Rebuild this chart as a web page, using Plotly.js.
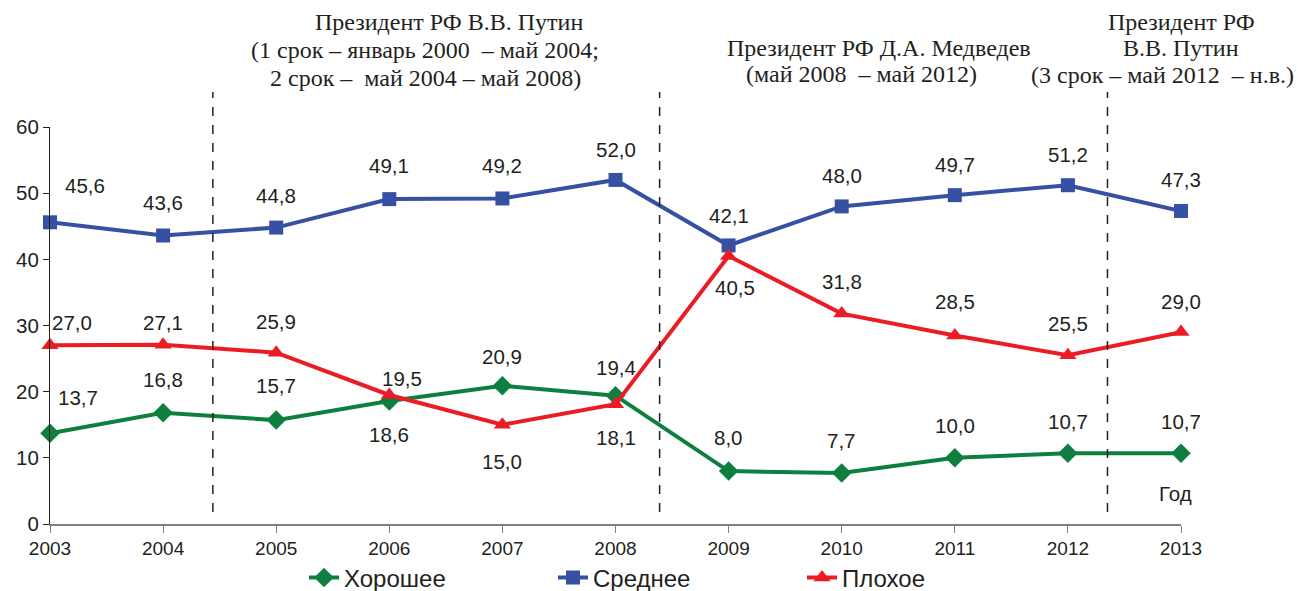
<!DOCTYPE html>
<html><head><meta charset="utf-8">
<script src="https://cdn.plot.ly/plotly-3.0.1.min.js"></script>
<style>html,body{margin:0;padding:0;background:#fff}#c{width:1298px;height:591px}</style>
</head><body><div id="c"></div>
<script>
const years = [2003,2004,2005,2006,2007,2008,2009,2010,2011,2012,2013];
const good = [13.7,16.8,15.7,18.6,20.9,19.4,8.0,7.7,10.0,10.7,10.7];
const average = [45.6,43.6,44.8,49.1,49.2,52.0,42.1,48.0,49.7,51.2,47.3];
const bad = [27.0,27.1,25.9,19.5,15.0,18.1,40.5,31.8,28.5,25.5,29.0];
const seriesNames = ['Хорошее','Среднее','Плохое'];
const termBreaks = [2004.44, 2008.39, 2012.35];

// label offsets in px (style only)
const goodOff = [[28,-36],[0,-33],[0,-35],[0,34],[0,-29],[0,-28],[0,-34],[0,-33],[0,-32],[0,-32],[0,-32]];
const avgOff = [[35,-37],[0,-33],[0,-32],[0,-34],[0,-33],[0,-30],[0,-30],[0,-31],[0,-31],[0,-31],[0,-32]];
const badOff = [[22,-23],[0,-22],[0,-31],[13,-16],[0,37],[0,33],[6,31],[0,-32],[0,-34],[0,-32],[0,-31]];

const colors = ['#0f7f3f','#3651a3','#ec1c24'];
const fmt = v => v.toFixed(1).replace('.', ',');

const traces = [
  {x:years,y:good,name:seriesNames[0],mode:'lines+markers',cliponaxis:false,
   line:{color:colors[0],width:4},marker:{symbol:'diamond',size:15,color:colors[0]}},
  {x:years,y:average,name:seriesNames[1],mode:'lines+markers',cliponaxis:false,
   line:{color:colors[1],width:4},marker:{symbol:'square',size:14,color:colors[1]}},
  {x:years,y:bad,name:seriesNames[2],mode:'lines+markers',cliponaxis:false,
   line:{color:colors[2],width:4},marker:{symbol:'triangle-up',size:15,color:colors[2]}}
];

const ann = [];
const lblFont = {family:'Liberation Sans, Arial, sans-serif',size:20.5,color:'#231f20'};
[[good,goodOff],[average,avgOff],[bad,badOff]].forEach(([vals,offs])=>{
  vals.forEach((v,i)=>{
    ann.push({x:years[i],y:v,xref:'x',yref:'y',text:fmt(v),showarrow:false,
      xshift:offs[i][0],yshift:-offs[i][1],font:lblFont});
  });
});
ann.push({x:2013,y:0,xref:'x',yref:'y',text:'Год',showarrow:false,xshift:-6,yshift:31,font:lblFont});

const serif = {family:'Liberation Serif, Times New Roman, serif',size:24,color:'#231f20'};
const topText = [
  ['Президент РФ В.В. Путин',449,22],
  ['(1 срок – январь 2000  – май 2004;',425,50],
  ['2 срок –  май 2004 – май 2008)',425,78],
  ['Президент РФ Д.А. Медведев',879,48],
  ['(май 2008  – май 2012)',861,74],
  ['Президент РФ',1181,22],
  ['В.В. Путин',1181,48],
  ['(3 срок – май 2012  – н.в.)',1162,75]
];
const L=50,R=1181,T=127,B=524;
topText.forEach(([t,px,py])=>{
  ann.push({xref:'paper',yref:'paper',x:(px-L)/(R-L),y:(B-py)/(B-T),text:t,showarrow:false,
    xanchor:'center',yanchor:'middle',font:serif});
});

const shapes = termBreaks.map(xb=>({type:'line',xref:'x',yref:'paper',x0:xb,x1:xb,
  y0:(B-512)/(B-T),y1:(B-92)/(B-T),line:{color:'#231f20',width:1.5,dash:'dash'}}));

const axFont = {family:'Liberation Sans, Arial, sans-serif',size:19,color:'#231f20'};
const layout = {
  width:1298,height:591,
  margin:{l:L,r:1298-R,t:T,b:591-B,autoexpand:false},
  paper_bgcolor:'#fff',plot_bgcolor:'#fff',
  showlegend:true,
  legend:{orientation:'h',x:(304-L)/(R-L),xanchor:'left',y:(B-578)/(B-T),yanchor:'middle',
    font:{family:'Liberation Sans, Arial, sans-serif',size:24,color:'#231f20'},entrywidth:204},
  xaxis:{range:[2003,2013],tickvals:years,ticktext:years.map(String),showgrid:false,zeroline:false,
    showline:true,linecolor:'#808080',linewidth:1.5,ticks:'outside',ticklen:7,tickcolor:'#808080',
    tickfont:axFont},
  yaxis:{range:[0,60],dtick:10,showgrid:false,zeroline:false,showline:true,linecolor:'#231f20',linewidth:1,
    ticks:'outside',ticklen:6,tickcolor:'#231f20',tickfont:{...axFont,size:20.5}},
  annotations:ann,shapes:shapes
};
Plotly.newPlot('c',traces,layout,{displayModeBar:false,staticPlot:true});
</script></body></html>
